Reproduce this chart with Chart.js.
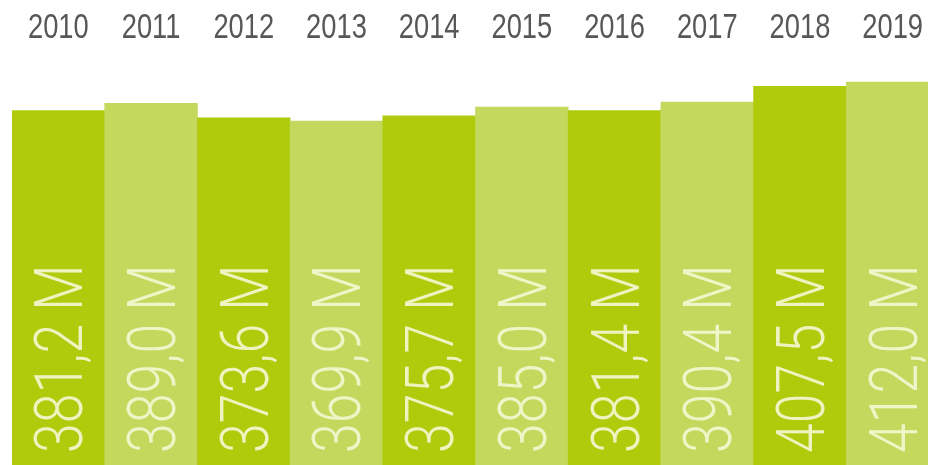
<!DOCTYPE html>
<html>
<head>
<meta charset="utf-8">
<script src="https://cdn.jsdelivr.net/npm/chart.js@4.4.0/dist/chart.umd.min.js"></script>
<style>
    html, body { margin: 0; padding: 0; background: #ffffff; overflow: hidden; }
    /* the last bar runs past the right edge of the picture, so the canvas is a bit wider */
    #chart-container { width: 939px; height: 465px; position: relative; }
</style>
</head>
<body>
<div id="chart-container"><canvas id="revenue-chart"></canvas></div>
<script>
    // years shown on the top axis
    const YEARS = ['2010', '2011', '2012', '2013', '2014', '2015', '2016', '2017', '2018', '2019'];
    // values, millions
    const VALUES = [381.2, 389.0, 373.6, 369.9, 375.7, 385.0, 381.4, 390.4, 407.5, 412.0];
    // text written inside the bars
    const VALUE_LABELS = ['381,2 M', '389,0 M', '373,6 M', '369,9 M', '375,7 M',
                          '385,0 M', '381,4 M', '390,4 M', '407,5 M', '412,0 M'];

    const DARK_GREEN = '#b0ca0c';
    const LIGHT_GREEN = '#c5d85e';

    var barColors = VALUES.map((v, i) => i % 2 == 0 ? DARK_GREEN : LIGHT_GREEN);

    // condensed year labels above the bars, placed on the x scale ticks
    const yearLabels = {
        id: 'yearLabels',
        afterDraw(chart) {
            var ctx = chart.ctx;
            var xScale = chart.scales.x;
            ctx.save();
            ctx.font = '35px "Liberation Sans", Arial, sans-serif';
            ctx.fillStyle = '#575757';
            ctx.textAlign = 'center';
            ctx.textBaseline = 'alphabetic';
            xScale.ticks.forEach((tick, i) => {
                ctx.save();
                ctx.translate(xScale.getPixelForTick(i), 38);
                ctx.scale(0.78, 1);
                ctx.fillText(YEARS[i], 0, 0);
                ctx.restore();
            });
            ctx.restore();
        }
    };

    // rotated value text, written bottom to top inside every bar
    const verticalLabels = {
        id: 'verticalLabels',
        afterDatasetsDraw(chart) {
            var ctx = chart.ctx;
            var meta = chart.getDatasetMeta(0);
            var bottom = chart.chartArea.bottom;
            ctx.save();
            ctx.font = '300 67px Roboto';
            ctx.fillStyle = 'rgba(244, 248, 212, 0.9)';
            ctx.textAlign = 'left';
            ctx.textBaseline = 'alphabetic';
            meta.data.forEach((bar, i) => {
                ctx.save();
                ctx.translate(bar.x + 24, bottom - 12);
                ctx.rotate(-Math.PI / 2);
                ctx.scale(0.8, 1);
                ctx.fillText(VALUE_LABELS[i], 0, 0);
                ctx.restore();
            });
            ctx.restore();
        }
    };

    var ctx = document.getElementById('revenue-chart').getContext('2d');
    var chart = new Chart(ctx, {
        type: 'bar',
        data: {
            labels: YEARS,
            datasets: [{
                data: VALUES,
                backgroundColor: barColors,
                borderWidth: 0,
                barPercentage: 1,
                categoryPercentage: 1,
            }]
        },
        options: {
            responsive: true,
            maintainAspectRatio: false,
            animation: false,
            layout: { padding: { left: 12, right: 0, top: 56, bottom: 0 } },
            plugins: {
                legend: { display: false },
                tooltip: { enabled: false },
            },
            scales: {
                x: {
                    position: 'top',
                    grid: { display: false, drawTicks: false },
                    border: { display: false },
                    ticks: { display: false },
                },
                y: {
                    display: false,
                    min: 0,
                    max: 440,
                }
            }
        },
        plugins: [verticalLabels, yearLabels],
    });
</script>
</body>
</html>
